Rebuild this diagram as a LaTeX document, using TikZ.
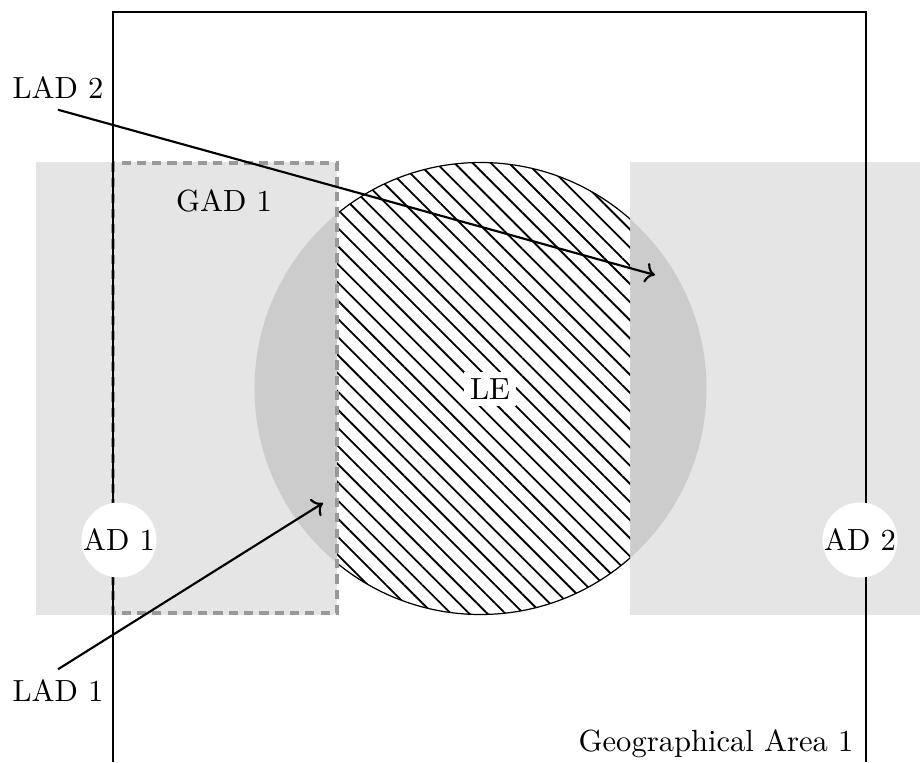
\documentclass[tikz,border=0pt]{standalone}
\usepackage{tikz}
\usetikzlibrary{arrows.meta,positioning,patterns.meta}

\begin{document}
\begin{tikzpicture}[x=0.327pt, y=-0.327pt,
    areabg/.style={fill=gray!20},
    arealine/.style={draw=black, line width=0.7pt},
    gadline/.style={draw=gray!80, line width=1pt, dash pattern=on 3pt off 2pt},
    hatch/.style={pattern={Lines[angle=-45, distance=4.2pt, line width=0.6pt]}},
    adnode/.style={circle, fill=white, inner sep=0pt},
    lbl/.style={inner sep=3.33pt},
    pointer/.style={->, line width=0.7pt}]

\useasboundingbox (0,0) rectangle (920,762);

% access domains
\fill[areabg] (36,162) rectangle (337,615);
\fill[areabg] (630,162) rectangle (920,615);

% location estimate
\fill[gray!40] (480.5,388.5) circle (226);
\begin{scope}
  \clip (337,0) rectangle (630,762);
  \fill[white] (480.5,388.5) circle (226);
  \fill[hatch] (480.5,388.5) circle (226);
  \draw[line width=0.4pt] (480.5,388.5) circle (226);
\end{scope}

\draw[gadline] (113,163) rectangle (337,613);
\draw[arealine] (113,762) |- (866,12) -- (866,762);

\node[lbl] (gad1) at (224,201) {GAD 1};
\node[fill=white, inner sep=2pt] (le) at (490,389) {LE};
\node[lbl] (geo) at (716,744) {Geographical Area 1};

\node[lbl] (lad2) at (58,88) {LAD 2};
\node[lbl] (lad1) at (58,691) {LAD 1};
\coordinate (lad2end) at (655,275);
\coordinate (lad1end) at (323,503);
\draw[pointer] (lad2.south) -- (lad2end);
\draw[pointer] (lad1.north) -- (lad1end);

\node[adnode] (ad1) at (119,540) {AD 1};
\node[adnode] (ad2) at (860,540) {AD 2};
\end{tikzpicture}
\end{document}
